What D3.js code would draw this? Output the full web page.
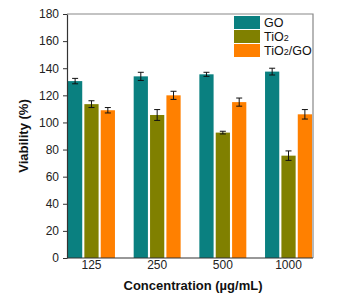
<!DOCTYPE html>
<html>
<head>
<meta charset="utf-8">
<script src="https://cdn.jsdelivr.net/npm/d3@7"></script>
<style>
  body { margin: 0; background: #fff; }
  text { font-family: "Liberation Sans", Arial, sans-serif; }
</style>
</head>
<body>
<div id="chart"></div>
<script>
// data
var concentrations = ["125", "250", "500", "1000"];
var seriesNames = ["GO", "TiO2", "TiO2/GO"];
var goValues = [130.5, 134, 135.5, 137.5];
var goErrors = [2, 3, 1.5, 2.5];
var tio2Values = [113.5, 105.5, 92.5, 75.5];
var tio2Errors = [2.5, 4, 1, 3.5];
var tio2goValues = [109, 120, 115, 106];
var tio2goErrors = [2, 3, 3, 3.5];
var yTicks = [0, 20, 40, 60, 80, 100, 120, 140, 160, 180];
var colors = ["#0a8080", "#808000", "#ff8000"];

var width = 360, height = 296;
var margin = { top: 14, right: 47, bottom: 38, left: 67 };

var svg = d3.select("#chart")
    .append("svg")
    .attr("width", width)
    .attr("height", height);

var plotW = width - margin.left - margin.right;
var plotH = height - margin.top - margin.bottom;

var g = svg.append("g")
    .attr("transform", "translate(" + margin.left + "," + margin.top + ")");

var x0 = d3.scaleBand()
    .domain(concentrations)
    .range([1, plotW - 1])
    .paddingInner(0.285)
    .paddingOuter(0);

var x1 = d3.scaleBand()
    .domain(seriesNames)
    .range([0, x0.bandwidth()])
    .paddingInner(0.13);

var y = d3.scaleLinear()
    .domain([0, 180])
    .range([plotH, 0]);

var color = d3.scaleOrdinal().domain(seriesNames).range(colors);

// build rows from the arrays
var rows = concentrations.map(function (c, i) {
    return [
        { c: c, s: "GO", v: goValues[i], e: goErrors[i] },
        { c: c, s: "TiO2", v: tio2Values[i], e: tio2Errors[i] },
        { c: c, s: "TiO2/GO", v: tio2goValues[i], e: tio2goErrors[i] }
    ];
});
var flat = [].concat.apply([], rows);

// frame (top and right)
g.append("path")
    .attr("d", "M0,0H" + plotW + "V" + plotH)
    .attr("fill", "none")
    .attr("stroke", "#888")
    .attr("stroke-width", 1.2);

// bars
g.selectAll("rect.bar")
    .data(flat)
    .enter()
    .append("rect")
    .attr("class", "bar")
    .attr("x", function (d) { return x0(d.c) + x1(d.s); })
    .attr("y", function (d) { return y(d.v); })
    .attr("width", x1.bandwidth())
    .attr("height", function (d) { return plotH - y(d.v); })
    .attr("fill", function (d) { return color(d.s); });

// error bars
var err = g.selectAll("g.err")
    .data(flat)
    .enter()
    .append("g")
    .attr("class", "err")
    .attr("stroke", "#111")
    .attr("stroke-width", 1);

err.append("line")
    .attr("x1", function (d) { return x0(d.c) + x1(d.s) + x1.bandwidth() / 2; })
    .attr("x2", function (d) { return x0(d.c) + x1(d.s) + x1.bandwidth() / 2; })
    .attr("y1", function (d) { return y(d.v - d.e); })
    .attr("y2", function (d) { return y(d.v + d.e); });

[-1, 1].forEach(function (sign) {
    err.append("line")
        .attr("x1", function (d) { return x0(d.c) + x1(d.s) + x1.bandwidth() / 2 - 3; })
        .attr("x2", function (d) { return x0(d.c) + x1(d.s) + x1.bandwidth() / 2 + 3; })
        .attr("y1", function (d) { return y(d.v + sign * d.e); })
        .attr("y2", function (d) { return y(d.v + sign * d.e); });
});

// y axis
var yAxis = g.append("g")
    .call(d3.axisLeft(y).tickValues(yTicks).tickSize(4).tickSizeOuter(0));
yAxis.select(".domain").attr("stroke", "#333").attr("stroke-width", 1.2);
yAxis.selectAll(".tick line").attr("stroke", "#333");
yAxis.selectAll("text").attr("font-size", 12).attr("fill", "#222").attr("dx", -1);

// x axis
var xAxis = g.append("g")
    .attr("transform", "translate(0," + plotH + ")")
    .call(d3.axisBottom(x0).tickSize(0).tickSizeOuter(0));
xAxis.select(".domain").attr("stroke", "#333").attr("stroke-width", 1.2)
    .attr("d", "M0,0H" + plotW);
xAxis.selectAll("text").attr("font-size", 12).attr("fill", "#222")
    .attr("y", 2).attr("dy", "0.71em");

// axis titles
svg.append("text")
    .attr("transform", "translate(28," + (margin.top + plotH / 2) + ") rotate(-90)")
    .attr("text-anchor", "middle")
    .attr("font-size", 13)
    .attr("font-weight", "bold")
    .attr("fill", "#111")
    .text("Viability (%)");

svg.append("text")
    .attr("x", margin.left + plotW / 2 + 3)
    .attr("y", 290)
    .attr("text-anchor", "middle")
    .attr("font-size", 13)
    .attr("font-weight", "bold")
    .attr("fill", "#111")
    .text("Concentration (\u00b5g/mL)");

// legend
var legendLabels = [["GO", ""], ["TiO", "2"], ["TiO", "2", "/GO"]];
var legend = svg.append("g").attr("transform", "translate(234,16)");
var items = legend.selectAll("g")
    .data(seriesNames)
    .enter()
    .append("g")
    .attr("transform", function (d, i) { return "translate(0," + i * 14 + ")"; });

items.append("rect")
    .attr("width", 26)
    .attr("height", 13)
    .attr("fill", function (d) { return color(d); });

items.append("text")
    .attr("x", 30)
    .attr("y", 11)
    .attr("font-size", 12.5)
    .attr("fill", "#111")
    .each(function (d, i) {
        var t = d3.select(this);
        var parts = legendLabels[i];
        t.append("tspan").text(parts[0]);
        if (parts[1]) t.append("tspan").attr("font-size", 9).text(parts[1]);
        if (parts[2]) t.append("tspan").text(parts[2]);
    });
</script>
</body>
</html>
